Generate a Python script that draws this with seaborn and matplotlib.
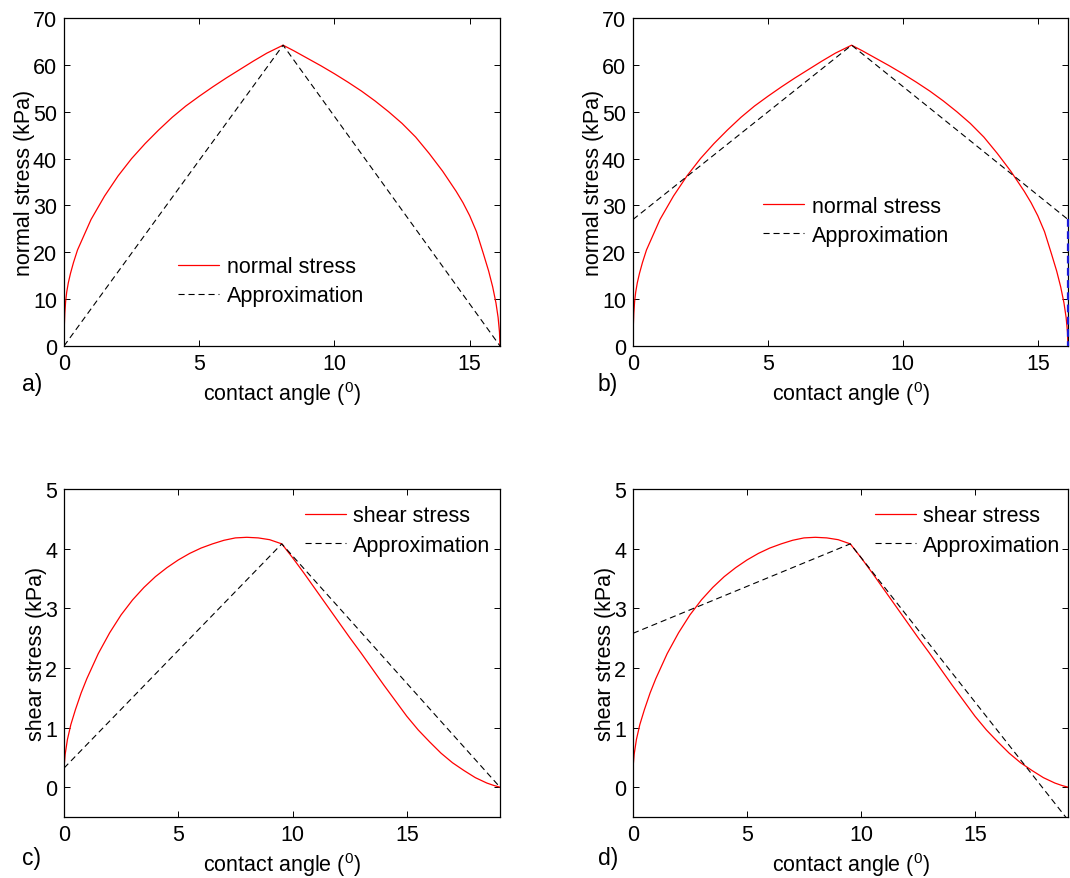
import matplotlib
matplotlib.use("Agg")
import matplotlib.pyplot as plt
import seaborn as sns

# Normal stress along the contact arc (panels a, b)
norm_angle = [0, 0.01, 0.03, 0.06, 0.1, 0.16, 0.24, 0.35, 0.5, 1.0, 1.5, 2.0, 2.5,
              3.0, 3.5, 4.0, 4.5, 5.0, 5.5, 6.0, 6.5, 7.0, 7.5, 8.1,
              8.5, 9.0, 9.5, 10.0, 10.5, 11.0, 11.5, 12.0, 12.5, 13.0, 13.5, 14.0,
              14.5, 14.75, 15.0, 15.25, 15.5, 15.7, 15.85, 15.97, 16.05, 16.1, 16.12]
norm_stress = [0, 4.0, 7.0, 9.5, 11.5, 13.5, 15.5, 17.8, 20.5, 27.0, 32.0, 36.3, 40.0,
               43.2, 46.1, 48.8, 51.2, 53.3, 55.3, 57.2, 59.0, 60.8, 62.5, 64.2,
               63.0, 61.4, 59.8, 58.1, 56.3, 54.4, 52.3, 50.0, 47.5, 44.6, 41.1, 37.3,
               33.0, 30.6, 27.8, 24.4, 19.8, 16.0, 12.6, 9.2, 6.1, 3.0, 0]

# Piecewise-linear approximations of the normal stress
norm_apx_angle = [0, 8.1, 16.12]
norm_apx_a = [0, 64.2, 0]
norm_apx_b = [27, 64.2, 27]
norm_drop_angle = [16.12, 16.12]
norm_drop = [27, 0]

# Shear stress along the contact arc (panels c, d)
shear_angle = [0, 0.05, 0.15, 0.3, 0.5, 0.75, 1.0, 1.5, 2.0, 2.5, 3.0, 3.5, 4.0,
               4.5, 5.0, 5.5, 6.0, 6.5, 7.0, 7.5, 8.0, 8.5, 9.0, 9.53,
               10.0, 10.5, 11.0, 11.5, 12.0, 12.5, 13.0, 13.5, 14.0, 14.5, 15.0,
               15.5, 16.0, 16.5, 17.0, 17.5, 18.0, 18.5, 18.8, 19.08]
shear_stress = [0.32, 0.55, 0.80, 1.05, 1.30, 1.58, 1.82, 2.24, 2.59, 2.89, 3.14, 3.35, 3.53,
                3.68, 3.81, 3.92, 4.01, 4.08, 4.14, 4.18, 4.19, 4.18, 4.15, 4.08,
                3.85, 3.59, 3.32, 3.05, 2.78, 2.51, 2.25, 1.98, 1.71, 1.45, 1.19,
                0.96, 0.76, 0.57, 0.41, 0.28, 0.16, 0.07, 0.03, 0]

# Piecewise-linear approximations of the shear stress
shear_apx_angle = [0, 9.53, 19.08]
shear_apx_c = [0.32, 4.08, 0]
shear_apx_d = [2.58, 4.08, -0.55]

norm_ticks = [0, 10, 20, 30, 40, 50, 60, 70]
shear_ticks = [0, 1, 2, 3, 4, 5]
angle_ticks = [0, 5, 10, 15]

sns.set_style("ticks")
plt.rcParams["font.family"] = ["Liberation Sans", "DejaVu Sans"]
plt.rcParams["mathtext.fontset"] = "custom"
plt.rcParams["mathtext.rm"] = "Liberation Sans"
plt.rcParams["mathtext.it"] = "Liberation Sans:italic"
plt.rcParams["font.size"] = 15.5
plt.rcParams["text.color"] = "black"
plt.rcParams["axes.labelcolor"] = "black"
plt.rcParams["axes.linewidth"] = 0.9
plt.rcParams["axes.edgecolor"] = "black"
for ax_ in ("xtick", "ytick"):
    plt.rcParams[f"{ax_}.direction"] = "in"
    plt.rcParams[f"{ax_}.major.size"] = 4
    plt.rcParams[f"{ax_}.major.width"] = 0.7
    plt.rcParams[f"{ax_}.labelsize"] = 15.5
    plt.rcParams[f"{ax_}.color"] = "black"
    plt.rcParams[f"{ax_}.labelcolor"] = "black"
plt.rcParams["xtick.top"] = True
plt.rcParams["ytick.right"] = True

W, H = 1070, 879
fig = plt.figure(figsize=(W / 100, H / 100), dpi=100)


def axes_px(left, top, right, bottom):
    return fig.add_axes([left / W, 1 - bottom / H, (right - left) / W, (bottom - top) / H])


ax_a = axes_px(64, 19, 500, 347)
ax_b = axes_px(633, 19, 1068, 347)
ax_c = axes_px(64, 490, 500, 818)
ax_d = axes_px(633, 490, 1068, 818)

dash = (0, (5.5, 3.5))
red_kw = dict(color="#ff0000", linewidth=0.9, estimator=None, sort=False)
apx_kw = dict(color="black", linewidth=0.8, linestyle=dash, estimator=None, sort=False)

# a) normal stress with a triangular approximation
sns.lineplot(x=norm_angle, y=norm_stress, ax=ax_a, label="normal stress", **red_kw)
sns.lineplot(x=norm_apx_angle, y=norm_apx_a, ax=ax_a, label="Approximation", **apx_kw)

# b) normal stress with a trapezoidal approximation
sns.lineplot(x=norm_angle, y=norm_stress, ax=ax_b, label="normal stress", **red_kw)
sns.lineplot(x=norm_apx_angle, y=norm_apx_b, ax=ax_b, label="Approximation", **apx_kw)
sns.lineplot(x=norm_drop_angle, y=norm_drop, ax=ax_b, color="#1a1ad8", linewidth=1.6,
             linestyle=(0, (3.5, 2.0)), estimator=None, sort=False, clip_on=False, zorder=3)

# c) shear stress with a triangular approximation
sns.lineplot(x=shear_angle, y=shear_stress, ax=ax_c, label="shear stress", **red_kw)
sns.lineplot(x=shear_apx_angle, y=shear_apx_c, ax=ax_c, label="Approximation", **apx_kw)

# d) shear stress with a trapezoidal approximation
sns.lineplot(x=shear_angle, y=shear_stress, ax=ax_d, label="shear stress", **red_kw)
sns.lineplot(x=shear_apx_angle, y=shear_apx_d, ax=ax_d, label="Approximation", **apx_kw)

for ax in (ax_a, ax_b):
    ax.set_xlim(0, 16.12)
    ax.set_ylim(0, 70)
    ax.set_yticks(norm_ticks)
    ax.set_ylabel("normal stress (kPa)", labelpad=-1.5)
for ax in (ax_c, ax_d):
    ax.set_xlim(0, 19.08)
    ax.set_ylim(-0.5, 5)
    ax.set_yticks(shear_ticks)
    ax.set_ylabel("shear stress (kPa)", labelpad=-1.5)

for ax in (ax_a, ax_b, ax_c, ax_d):
    ax.set_xticks(angle_ticks)
    ax.set_xlabel("contact angle ($^0$)", labelpad=4)
    ax.tick_params(which="both", top=True, right=True, direction="in", pad=5,
                   colors="black", labelcolor="black")
    for sp in ax.spines.values():
        sp.set_visible(True)
        sp.set_color("black")

legend_kw = dict(loc="upper left", frameon=False, borderpad=0, borderaxespad=0,
                 handlelength=1.9, handletextpad=0.35, labelspacing=0.38, fontsize=15.5)
ax_a.legend(bbox_to_anchor=(0.262, 0.274), **legend_kw)
ax_b.legend(bbox_to_anchor=(0.299, 0.458), **legend_kw)
ax_c.legend(bbox_to_anchor=(0.552, 0.95), **legend_kw)
ax_d.legend(bbox_to_anchor=(0.556, 0.95), **legend_kw)

for txt, x, y in (("a)", 22, 384), ("b)", 598, 384), ("c)", 22, 859), ("d)", 598, 859)):
    fig.text(x / W, 1 - y / H, txt, ha="left", va="center", fontsize=16.5)

fig.savefig("out.png", dpi=100, facecolor="white")
